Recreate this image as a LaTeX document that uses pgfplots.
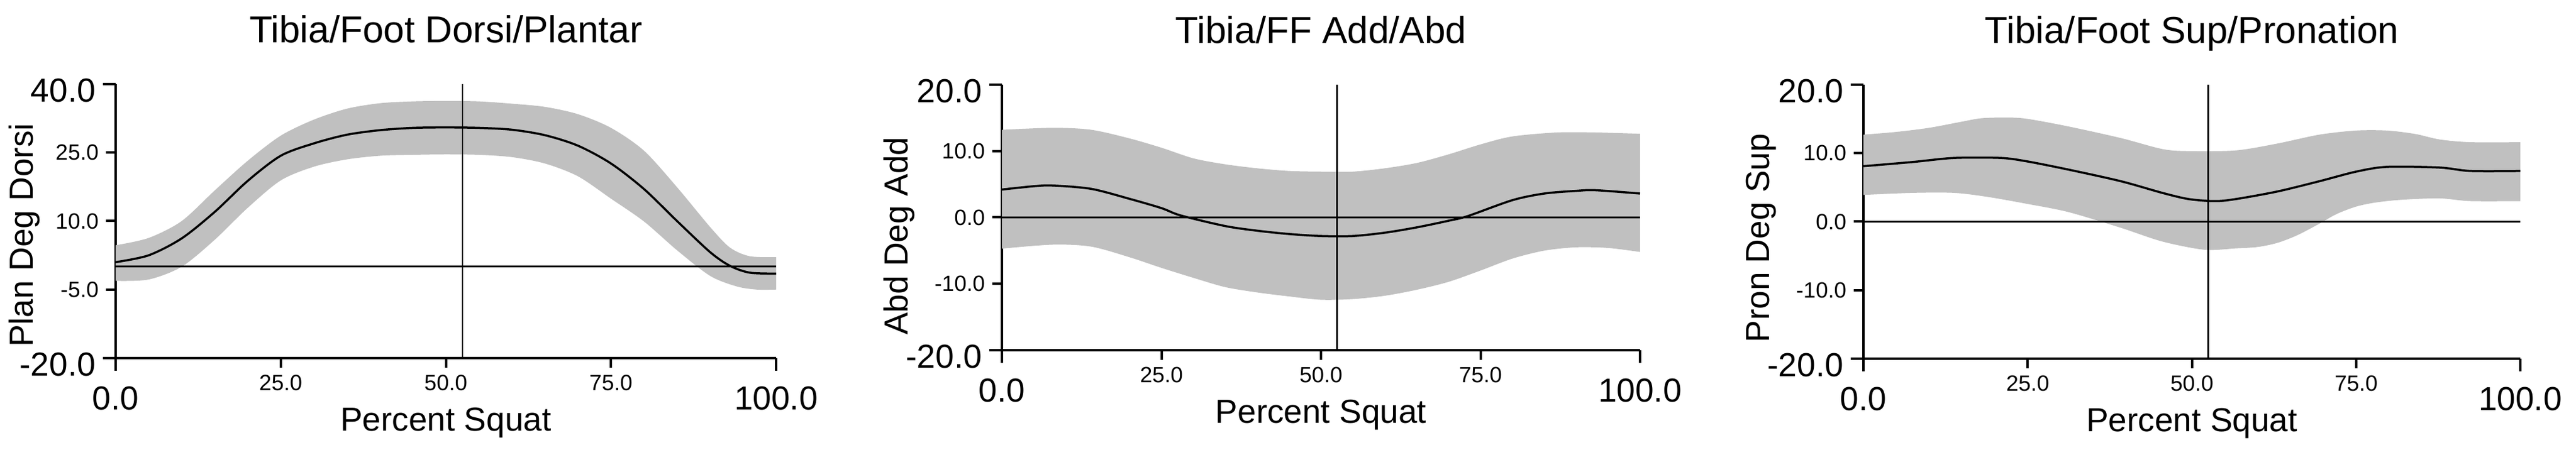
\documentclass[border=0pt]{standalone}
\usepackage{fontspec}
\setmainfont{Liberation Sans}
\usepackage{pgfplots}
\pgfplotsset{compat=1.18}
\usepgfplotslibrary{fillbetween}

\definecolor{band}{HTML}{C0C0C0}

\newcommand{\ticksmall}{\fontsize{7.3}{8.5}\selectfont}
\newcommand{\tickbig}{\fontsize{11}{13}\selectfont}

\pgfplotsset{
  squat/.style={
    scale only axis,
    axis lines=left,
    axis line style={-, line width=0.8pt},
    tick style={line width=0.8pt, black},
    tick align=outside,
    major tick length=3.2pt,
    enlargelimits=false,
    xmin=0, xmax=100,
    xtick={25,50,75},
    extra x ticks={0,100},
    tick label style={font=\ticksmall, inner sep=2.2pt},
    extra x tick style={major tick length=4.2pt,
      xticklabel style={font=\tickbig, yshift=-2.8pt}},
    /pgf/number format/.cd, fixed, fixed zerofill, precision=1,
      assume math mode=true, /pgfplots/.cd,
    title style={font=\fontsize{12.4}{14}\selectfont, at={(axis description cs:0.5,1)},
      anchor=base, yshift=7.6pt, inner sep=0pt},
    xlabel style={font=\tickbig, at={(axis description cs:0.5,0)},
      anchor=base, yshift=-24.2pt, inner sep=0pt},
    xlabel={Percent Squat},
  },
  bandline/.style={draw=none, forget plot},
  meanline/.style={black, line width=0.7pt, smooth},
  refline/.style={black, line width=0.6pt},
  midline/.style={black, line width=0.5pt},
}

\begin{document}
\begin{tikzpicture}

% ---------- Tibia/Foot Dorsi/Plantar ----------
\begin{axis}[squat,
  at={(38.2pt,30.4pt)}, anchor=south west,
  width=218.2pt, height=90.6pt,
  ymin=-20, ymax=40,
  ytick={-5,10,25},
  extra y ticks={-20,40},
  extra y tick style={major tick length=4.2pt,
    yticklabel style={font=\tickbig, yshift=-2.2pt}},
  title={Tibia/Foot Dorsi/Plantar},
  ylabel={Plan Deg Dorsi},
  ylabel style={font=\tickbig, at={(axis description cs:0,0.448)},
    anchor=south, yshift=24.8pt, inner sep=0pt},
]
\addplot[bandline, smooth, name path=up] coordinates {
(0,4.7) (5,6.3) (10,10.0) (15,16.7) (20,23.2) (25,28.7) (30,32.2) (35,34.6)
(40,35.8) (45,36.2) (50,36.3) (55,36.2) (60,35.7) (65,35.0) (70,33.4) (75,30.4)
(80,25.4) (85,17.4) (90,8.7) (93,4.2) (96,2.3) (100,2.1)};
\addplot[bandline, smooth, name path=lo] coordinates {
(0,-3.1) (5,-2.8) (10,0.0) (15,5.9) (20,12.9) (25,18.9) (30,21.9) (35,23.5)
(40,24.3) (45,24.5) (50,24.6) (55,24.5) (60,24.0) (65,22.6) (70,19.8) (75,14.9)
(80,9.9) (85,3.6) (90,-2.0) (94,-4.3) (97,-5.0) (100,-5.0)};
\addplot[band, draw=none] fill between[of=up and lo];
\addplot[refline] coordinates {(0,0) (100,0)};
\addplot[midline] coordinates {(52.5,-20) (52.5,40)};
\addplot[meanline] coordinates {
(0,1.0) (5,2.5) (10,6.2) (15,12.0) (20,18.8) (25,24.3) (30,27.0) (35,28.9)
(40,29.9) (45,30.4) (50,30.5) (55,30.4) (60,30.0) (65,28.8) (70,26.5) (75,22.6)
(80,17.0) (85,10.0) (90,3.2) (93,0.2) (96,-1.3) (100,-1.5)};
\end{axis}

% ---------- Tibia/FF Add/Abd ----------
\begin{axis}[squat,
  at={(331pt,33pt)}, anchor=south west,
  width=210.8pt, height=87.8pt,
  ymin=-20, ymax=20,
  ytick={-10,0,10},
  extra y ticks={-20,20},
  extra y tick style={major tick length=4.2pt,
    yticklabel style={font=\tickbig, yshift=-2.2pt}},
  title={Tibia/FF Add/Abd},
  ylabel={Abd Deg Add},
  ylabel style={font=\tickbig, at={(axis description cs:0,0.43)},
    anchor=south, yshift=28.6pt, inner sep=0pt},
]
\addplot[bandline, smooth, name path=up] coordinates {
(0,13.2) (8,13.5) (14,13.2) (20,11.9) (25,10.5) (30,8.9) (35,8.0) (40,7.4)
(45,7.0) (50,6.9) (55,6.9) (60,7.4) (65,8.2) (70,9.5) (75,11.0) (80,12.2)
(87,12.8) (93,12.8) (100,12.6)};
\addplot[bandline, smooth, name path=lo] coordinates {
(0,-4.7) (8,-4.1) (14,-4.4) (20,-6.0) (25,-7.6) (30,-9.1) (35,-10.5) (40,-11.3)
(45,-11.9) (50,-12.4) (55,-12.3) (60,-11.8) (65,-10.9) (70,-9.7) (75,-8.0)
(80,-6.2) (85,-5.0) (90,-4.5) (95,-4.6) (100,-5.2)};
\addplot[band, draw=none] fill between[of=up and lo];
\addplot[refline] coordinates {(0,0) (100,0)};
\addplot[midline] coordinates {(52.5,-20) (52.5,20)};
\addplot[meanline] coordinates {
(0,4.2) (5,4.7) (8,4.8) (14,4.3) (20,2.8) (25,1.4) (28,0.3) (35,-1.3) (40,-2.0)
(45,-2.5) (50,-2.8) (55,-2.8) (60,-2.3) (65,-1.5) (70,-0.5) (73,0.2) (80,2.6)
(85,3.6) (90,4.0) (93,4.1) (100,3.6)};
\end{axis}

% ---------- Tibia/Foot Sup/Pronation ----------
\begin{axis}[squat,
  at={(615.6pt,30.2pt)}, anchor=south west,
  width=217pt, height=90.6pt,
  ymin=-20, ymax=20,
  ytick={-10,0,10},
  extra y ticks={-20,20},
  extra y tick style={major tick length=4.2pt,
    yticklabel style={font=\tickbig, yshift=-2.2pt}},
  title={Tibia/Foot Sup/Pronation},
  ylabel={Pron Deg Sup},
  ylabel style={font=\tickbig, at={(axis description cs:0,0.44)},
    anchor=south, yshift=28.6pt, inner sep=0pt},
]
\addplot[bandline, smooth, name path=up] coordinates {
(0,12.7) (5,13.1) (10,13.7) (15,14.6) (18,15.1) (22,15.2) (25,15.0) (31.2,13.9)
(39.2,12.2) (45.5,10.6) (49.5,10.3) (56.7,10.4) (63,11.4) (69.4,12.7) (75,13.3)
(79.7,13.3) (84,12.8) (87.7,12.0) (92.4,11.6) (100,11.6)};
\addplot[bandline, smooth, name path=lo] coordinates {
(0,3.9) (7.4,4.2) (13.8,4.2) (19,3.6) (24.9,2.6) (31.2,1.4) (39.2,-0.9) (45.5,-2.9)
(51.9,-4.1) (56.7,-3.9) (60,-3.7) (63,-3.1) (66,-2.0) (69.4,-0.3) (72,1.1)
(75,2.2) (78,2.8) (82,3.2) (87.7,3.4) (92.4,3.0) (100,3.0)};
\addplot[band, draw=none] fill between[of=up and lo];
\addplot[refline] coordinates {(0,0) (100,0)};
\addplot[midline] coordinates {(52.5,-20) (52.5,20)};
\addplot[meanline] coordinates {
(0,8.1) (7.4,8.7) (13.8,9.3) (20.9,9.3) (24.9,8.8) (31.2,7.6) (39.2,5.9)
(45.5,4.2) (49.5,3.3) (53.5,3.0) (56.7,3.3) (63,4.4) (69.4,5.9) (75,7.3)
(79.7,8.0) (87.7,7.9) (92.4,7.4) (100,7.4)};
\end{axis}

\pgfresetboundingbox
\path[use as bounding box] (0,0) rectangle (851pt,148.8pt);
\end{tikzpicture}
\end{document}
